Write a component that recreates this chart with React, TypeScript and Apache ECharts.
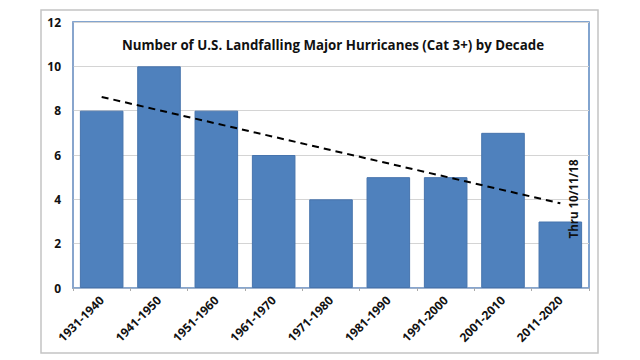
import React, { useEffect, useRef } from "react";
import * as echarts from "echarts";

const decades = ["1931-1940", "1941-1950", "1951-1960", "1961-1970", "1971-1980", "1981-1990", "1991-2000", "2001-2010", "2011-2020"];
const hurricanes = [8, 10, 8, 6, 4, 5, 5, 7, 3];
const trendStart = 8.62;
const trendEnd = 3.82;
const yTicks = [0, 2, 4, 6, 8, 10, 12];
const titleText = "Number of U.S. Landfalling Major Hurricanes (Cat 3+) by Decade";
const noteText = "Thru 10/11/18";

export default function App() {
  const ref = useRef<HTMLDivElement>(null);
  useEffect(() => {
    if (!ref.current) return;
    const chart = echarts.init(ref.current, undefined, { renderer: "svg" });
    const font = "'Open Sans', 'Liberation Sans', sans-serif";
    chart.setOption({
      animation: false,
      backgroundColor: "#ffffff",
      textStyle: { fontFamily: font },
      grid: {
        left: 73,
        top: 22,
        right: 51,
        bottom: 72,
        show: true,
        borderColor: "#5a86c0",
        borderWidth: 1.5,
        backgroundColor: "transparent",
      },
      graphic: [
        {
          type: "rect",
          shape: { x: 41, y: 10, width: 557, height: 343 },
          style: { fill: "none", stroke: "#c4c4c4", lineWidth: 1.5 },
          z: -1,
        },
        {
          type: "text",
          x: 333,
          y: 45,
          style: {
            text: titleText,
            font: `bold 13.3px ${font}`,
            fill: "#111111",
            align: "center",
            verticalAlign: "middle",
          },
          z: 10,
        },
        {
          type: "text",
          x: 573,
          y: 199,
          rotation: Math.PI / 2,
          style: {
            text: noteText,
            font: `bold 11.5px ${font}`,
            fill: "#111111",
            align: "center",
            verticalAlign: "middle",
          },
          z: 10,
        },
      ],
      xAxis: {
        type: "category",
        data: decades,
        boundaryGap: true,
        axisLine: { show: true, lineStyle: { color: "#8aa6cc", width: 1.5 } },
        axisTick: { show: true, length: 3, lineStyle: { color: "#aaaaaa" } },
        axisLabel: {
          rotate: 45,
          interval: 0,
          color: "#111111",
          fontWeight: "bold",
          fontSize: 12,
          fontFamily: font,
          margin: 10,
        },
      },
      yAxis: {
        type: "value",
        min: yTicks[0],
        max: yTicks[yTicks.length - 1],
        interval: 2,
        axisLine: { show: true, lineStyle: { color: "#8aa6cc", width: 1.5 } },
        axisTick: { show: false },
        splitLine: { show: true, lineStyle: { color: "#d4d4d4", width: 1 } },
        axisLabel: {
          color: "#111111",
          fontWeight: "bold",
          fontSize: 12,
          fontFamily: font,
          margin: 12,
        },
      },
      series: [
        {
          type: "bar",
          data: hurricanes,
          barCategoryGap: "24%",
          itemStyle: { color: "#4f81bd", borderColor: "#4774ad", borderWidth: 1 },
          markLine: {
            symbol: ["none", "none"],
            silent: true,
            label: { show: false },
            lineStyle: { color: "#000000", type: [7, 5], width: 2 },
            data: [
              [
                { coord: [decades[0], trendStart] },
                { coord: [decades[decades.length - 1], trendEnd] },
              ],
            ],
          },
        },
      ],
    });
    return () => chart.dispose();
  }, []);
  return (
    <div
      ref={ref}
      style={{ position: "fixed", left: 0, top: 0, width: 640, height: 360, background: "#fff" }}
    />
  );
}
